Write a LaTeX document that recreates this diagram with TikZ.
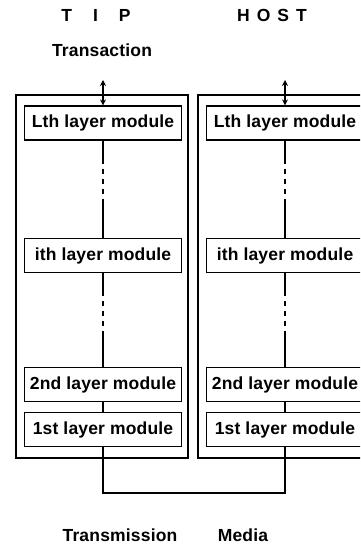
\documentclass[tikz,border=0pt]{standalone}
\usepackage{fontspec}
\setmainfont{Liberation Sans}
\newfontfamily\labfont[LetterSpace=1]{Liberation Sans}
\usetikzlibrary{arrows.meta}
\begin{document}
\begin{tikzpicture}[x=1pt,y=-1pt,
  line width=1.2pt,
  lbl/.style={font=\labfont\fontsize{17.5}{20}\selectfont\bfseries, inner sep=0pt},
  modbox/.style={draw, line width=1.2pt, minimum width=157pt, minimum height=34pt,
    inner sep=0pt, font=\labfont\fontsize{17.5}{20}\selectfont\bfseries},
  frame/.style={draw, line width=1.2pt},
  dotlink/.style={line width=1.2pt,
    dash pattern=on 23pt off 5pt on 5pt off 5pt on 5pt off 5pt on 5pt off 5pt on 60pt},
  link/.style={line width=1.2pt},
  biarrow/.style={line width=1.2pt, {Stealth[length=6pt,width=6pt]}-{Stealth[length=6pt,width=6pt]}}
]
\useasboundingbox (0,0) rectangle (360,546);
\clip (0,0) rectangle (360,546);

% headings
\node[lbl] (tip)  at (96,15)  {T\hspace{1.2em}I\hspace{1.2em}P};
\node[lbl] (host) at (272,15) {H\hspace{0.4em}O\hspace{0.4em}S\hspace{0.4em}T};
\node[lbl] (trans) at (102,50) {Transaction};

% two stacks: TIP on the left, HOST shifted right
\foreach \side/\dx in {a/0, b/182} {
  \draw[frame] (16+\dx,95) rectangle (188+\dx,458);
  \node[modbox] (L\side) at (103+\dx,123)   {Lth layer module};
  \node[modbox] (I\side) at (103+\dx,255.5) {ith layer module};
  \node[modbox] (S\side) at (103+\dx,384.5) {2nd layer module};
  \node[modbox] (F\side) at (103+\dx,429.5) {1st layer module};
  \coordinate (top\side) at (103+\dx,80);
  \draw[biarrow] (top\side) -- (L\side.north);
  \draw[dotlink] (L\side.south) -- (I\side.north);
  \draw[dotlink] (I\side.south) -- (S\side.north);
  \draw[link] (S\side.south) -- (F\side.north);
}

% transmission media between the two stacks
\coordinate (bus) at (103,493);
\draw[link] (Fa.south) -- (bus) -| (Fb.south);

\node[lbl] (tm) at (120,535) {Transmission};
\node[lbl] (md) at (243,535) {Media};
\end{tikzpicture}
\end{document}
